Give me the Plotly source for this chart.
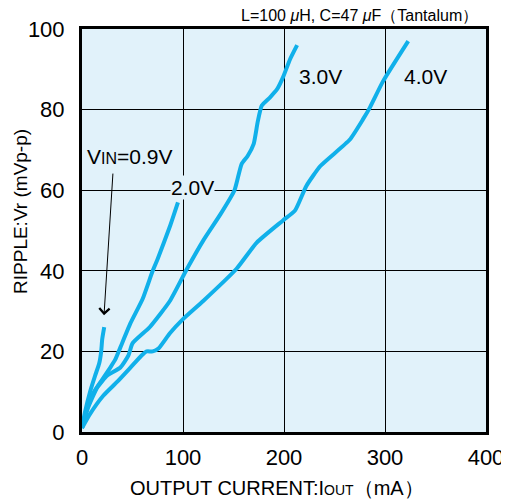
import plotly.graph_objects as go

# Data (x: output current mA, y: ripple mVp-p)
x_09 = [0, 3, 8, 13, 17, 19, 20, 22]
y_09 = [1, 5, 10, 14, 17, 20, 23, 26]

x_20 = [0, 5, 12, 20, 28, 33, 38, 48, 60, 70, 75, 87, 95]
y_20 = [1, 6, 10, 13, 16, 18, 21, 27, 33, 40, 43, 51, 57]

x_30 = [0, 6, 15, 25, 38, 46, 50, 67, 87, 104, 120, 137, 151, 158, 164, 170, 174, 178, 186, 193, 199, 206, 213]
y_30 = [1, 6, 11, 14, 16, 19, 22, 26, 32.5, 40.5, 47.5, 54, 60, 66.5, 68.5, 71.5, 77, 81, 83, 85, 88, 92.5, 96]

x_40 = [0, 8, 21, 35, 48, 59, 64, 70, 76, 87, 100, 120, 153, 173, 199, 211, 222, 236, 265, 278, 285, 298, 323]
y_40 = [1, 4.5, 9, 12.5, 16, 19, 20, 20, 20.8, 24.5, 28, 32.5, 40.5, 47, 52.5, 55, 61, 66, 72.5, 77.5, 80.5, 87, 97]

x_ticks = [0, 100, 200, 300, 400]
y_ticks = [0, 20, 40, 60, 80, 100]

LINE = "#10b0ea"
BG = "#e1f2fa"

fig = go.Figure()
for xs, ys in [(x_09, y_09), (x_20, y_20), (x_30, y_30), (x_40, y_40)]:
    fig.add_trace(go.Scatter(x=xs, y=ys, mode="lines",
                             line=dict(color=LINE, width=4, shape="spline", smoothing=0.5),
                             showlegend=False, hoverinfo="skip"))

FONT = "Liberation Sans, Arial, sans-serif"

fig.update_layout(
    width=501, height=494,
    margin=dict(l=74, r=23, t=21, b=70),
    paper_bgcolor="white", plot_bgcolor=BG,
    font=dict(family=FONT, color="black"),
    xaxis=dict(range=[0, 400], tickvals=x_ticks, showgrid=True, gridcolor="black", gridwidth=1,
               zeroline=False, showline=True, linecolor="black", linewidth=3, mirror=True,
               ticks="outside", ticklen=4, tickcolor="rgba(0,0,0,0)", automargin=False,
               tickfont=dict(size=22, family=FONT)),
    yaxis=dict(range=[0, 100], tickvals=y_ticks, showgrid=True, gridcolor="black", gridwidth=1,
               zeroline=False, showline=True, linecolor="black", linewidth=3, mirror=True,
               ticks="outside", ticklen=10, tickcolor="rgba(0,0,0,0)", automargin=False,
               tickfont=dict(size=22, family=FONT)),
)

fig.add_annotation(xref="paper", yref="paper", x=0.483, y=0, yshift=-56, xanchor="center", yanchor="middle",
                   text="OUTPUT CURRENT:I<span style='font-size:14px'>OUT</span>（mA）", showarrow=False,
                   font=dict(size=20, family=FONT))
fig.add_annotation(xref="paper", yref="paper", x=0, xshift=-61, y=0.546, xanchor="center", yanchor="middle",
                   text="RIPPLE:Vr (mVp-p)", textangle=-90, showarrow=False,
                   font=dict(size=19, family=FONT))

fig.add_annotation(xref="paper", yref="paper", x=0.985, y=1.0, yshift=14, xanchor="right", yanchor="middle",
                   text="L=100 <i>μ</i>H, C=47 <i>μ</i>F（Tantalum）", showarrow=False,
                   font=dict(size=16, family=FONT))

fig.add_annotation(x=236, y=88.25, text="3.0V", showarrow=False, font=dict(size=21, family=FONT))
fig.add_annotation(x=339.6, y=88.25, text="4.0V", showarrow=False, font=dict(size=21, family=FONT))
fig.add_annotation(x=109, y=60.75, text="2.0V", showarrow=False, bgcolor=BG, borderpad=0,
                   font=dict(size=21, family=FONT))
fig.add_annotation(x=47.5, y=68.25, text="V<span style='font-size:16px'>IN</span>=0.9V", showarrow=False,
                   font=dict(size=21, family=FONT))
fig.add_annotation(x=21.8, y=29, ax=30.7, ay=64.5, xref="x", yref="y", axref="x", ayref="y",
                   text="", showarrow=True, arrowhead=4, arrowsize=2, arrowwidth=1, arrowcolor="black")

fig.write_html("out.html")
